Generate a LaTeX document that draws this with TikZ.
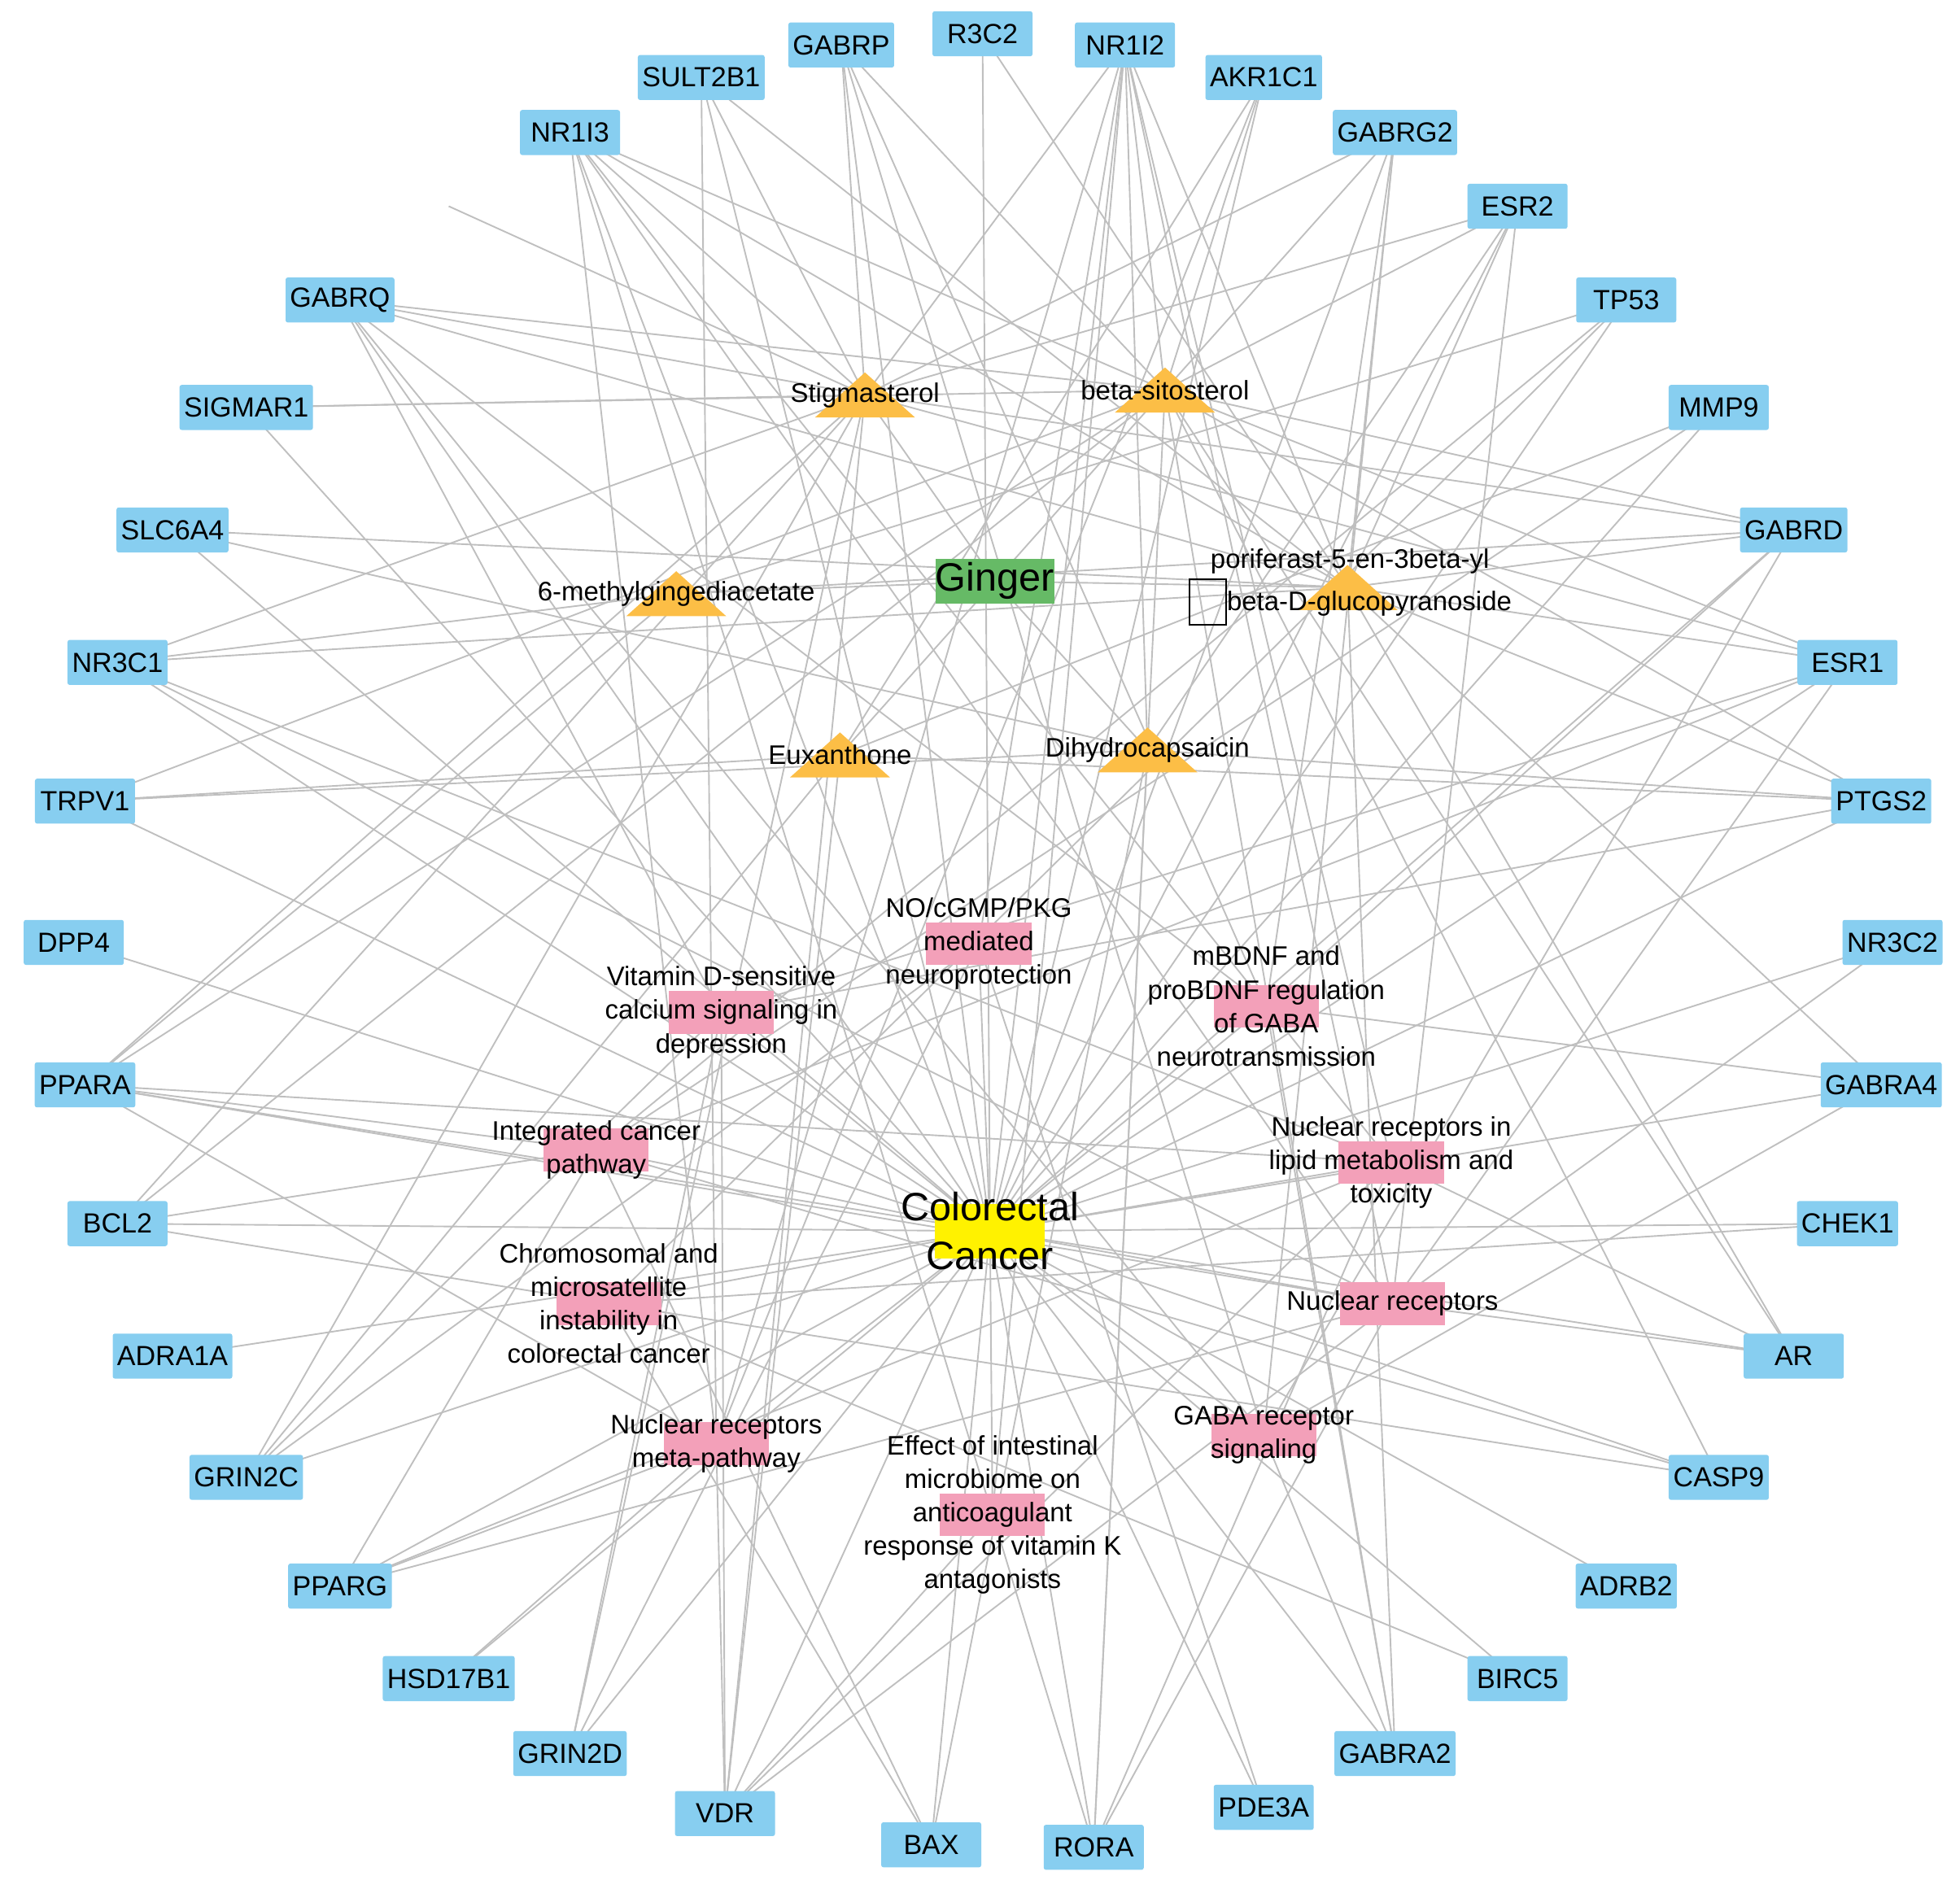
\documentclass[tikz,border=0pt]{standalone}
\usepackage{fontspec}
\setmainfont{Liberation Sans}
\usetikzlibrary{calc}
\begin{document}
\begin{tikzpicture}[x=0.01cm,y=-0.01cm,
  gene/.style={minimum width=0.8cm, minimum height=0.36cm, inner sep=1pt, rounded corners=0.5pt, font=\fontsize{6.3}{7}\selectfont},
  pbox/.style={minimum width=0.84cm, minimum height=0.34cm, inner sep=0pt},
  ptext/.style={align=center, font=\fontsize{6.1}{7.6}\selectfont},
  ctext/.style={font=\fontsize{6.1}{7}\selectfont},
  edge/.style={draw=black!25, line width=0.35pt}]
\useasboundingbox (0,0) rectangle (1568,1511);
\definecolor{gblue}{RGB}{135,206,240}
\definecolor{gpink}{RGB}{243,160,185}
\definecolor{gorange}{RGB}{252,190,70}
\tikzset{gene/.append style={fill=gblue}, pbox/.append style={fill=gpink}}
\foreach \n/\x/\y in {GABRP/673/36, R3C2/786/27, NR1I2/900/36, SULT2B1/561/62, AKR1C1/1011/62, NR1I3/456/106, GABRG2/1116/106, PHB2/359/165, ESR2/1214/165, GABRQ/272/240, TP53/1301/240, SIGMAR1/197/326, MMP9/1375/326, SLC6A4/138/424, GABRD/1435/424, NR3C1/94/530, ESR1/1478/530, TRPV1/68/641, PTGS2/1505/641, DPP4/59/754, NR3C2/1514/754, PPARA/68/868, GABRA4/1505/868, BCL2/94/979, CHEK1/1478/979, ADRA1A/138/1085, AR/1435/1085, GRIN2C/197/1182, CASP9/1375/1182, PPARG/272/1269, ADRB2/1301/1269, HSD17B1/359/1343, BIRC5/1214/1343, GRIN2D/456/1403, GABRA2/1116/1403, VDR/580/1451, PDE3A/1011/1446, BAX/745/1476, RORA/875/1478}
  \coordinate (\n) at (\x,\y);
\foreach \n/\x/\y in {stig/692/316, sito/932/312, meth/541/475, pori/1078/470, eux/672/604, dihy/918/600,
  ginger/796/465, crc/792/985, nocgmp/783/755, vitd/577/810, mbdnf/1013/805, integ/477/920, nrlipid/1113/930,
  chrom/487/1043, nr/1114/1043, gaba/1011/1148, nrmeta/573/1155, effect/794/1212}
  \coordinate (\n) at (\x,\y);
\foreach \c in {stig,sito,meth,pori,eux,dihy} \draw[edge] (ginger) -- (\c);
\foreach \c in {nocgmp,vitd,mbdnf,integ,nrlipid,chrom,nr,gaba,nrmeta,effect} \draw[edge] (crc) -- (\c);
\foreach \g in {GABRP,R3C2,NR1I2,SULT2B1,AKR1C1,NR1I3,GABRG2,ESR2,GABRQ,TP53,SIGMAR1,MMP9,SLC6A4,GABRD,NR3C1,ESR1,TRPV1,PTGS2,DPP4,NR3C2,PPARA,GABRA4,BCL2,CHEK1,ADRA1A,AR,GRIN2C,CASP9,PPARG,ADRB2,HSD17B1,BIRC5,GRIN2D,GABRA2,VDR,PDE3A,BAX,RORA}
  \draw[edge] (crc) -- (\g);
\foreach \g in {GABRP,SULT2B1,NR1I3,GABRQ,SIGMAR1,NR1I2,GABRG2,ESR2,GABRD,ESR1,PPARA,NR3C1,BCL2,GRIN2C,VDR,GRIN2D,PHB2}
  \draw[edge] (stig) -- (\g);
\foreach \g in {GABRP,NR1I2,AKR1C1,NR1I3,GABRG2,ESR2,GABRQ,SIGMAR1,GABRD,ESR1,PPARA,BCL2,CASP9,AR,GABRA2,RORA,PTGS2,TRPV1}
  \draw[edge] (sito) -- (\g);
\foreach \g in {NR1I2,NR1I3,GABRG2,ESR2,GABRQ,GABRD,ESR1,GABRA4,NR3C1,SLC6A4,AR,GABRA2,PTGS2,R3C2,SULT2B1}
  \draw[edge] (pori) -- (\g);
\foreach \g in {NR3C1,PPARA,TP53,GABRD} \draw[edge] (meth) -- (\g);
\foreach \g in {TRPV1,GRIN2C,AKR1C1,MMP9,PTGS2,VDR} \draw[edge] (eux) -- (\g);
\foreach \g in {TRPV1,NR1I2,SLC6A4,ESR2,PTGS2,BAX,RORA} \draw[edge] (dihy) -- (\g);
\foreach \g in {PDE3A,GRIN2C,GRIN2D,NR1I2} \draw[edge] (nocgmp) -- (\g);
\foreach \g in {VDR,GRIN2C,GRIN2D,PTGS2,GABRQ,ESR1} \draw[edge] (vitd) -- (\g);
\foreach \g in {GABRA2,GABRA4,GABRD,GABRG2,GABRP,GABRQ} \draw[edge] (mbdnf) -- (\g);
\foreach \g in {BCL2,BAX,CASP9,TP53,PPARA,PPARG,MMP9,ESR1} \draw[edge] (integ) -- (\g);
\foreach \g in {NR1I2,NR1I3,PPARA,PPARG,NR3C1,AR,RORA,VDR} \draw[edge] (nrlipid) -- (\g);
\foreach \g in {TP53,BAX,BCL2,CASP9,BIRC5,CHEK1} \draw[edge] (chrom) -- (\g);
\foreach \g in {NR1I2,NR1I3,NR3C1,NR3C2,PPARA,PPARG,ESR1,ESR2,AR,VDR,RORA} \draw[edge] (nr) -- (\g);
\foreach \g in {GABRA2,GABRA4,GABRD,GABRG2,GABRP,GABRQ} \draw[edge] (gaba) -- (\g);
\foreach \g in {NR1I2,NR1I3,PPARA,PPARG,VDR,HSD17B1,SULT2B1,AKR1C1} \draw[edge] (nrmeta) -- (\g);
\foreach \g in {NR1I2,NR1I3,VDR,RORA} \draw[edge] (effect) -- (\g);
\foreach \n in {GABRP,R3C2,NR1I2,SULT2B1,AKR1C1,NR1I3,GABRG2,ESR2,GABRQ,TP53,SIGMAR1,MMP9,SLC6A4,GABRD,NR3C1,ESR1,TRPV1,PTGS2,DPP4,NR3C2,PPARA,GABRA4,BCL2,CHEK1,ADRA1A,AR,GRIN2C,CASP9,PPARG,ADRB2,HSD17B1,BIRC5,GRIN2D,GABRA2,VDR,PDE3A,BAX,RORA}
  \node[gene] (n\n) at (\n) {\n};
\foreach \c in {stig,sito,meth,pori,eux,dihy}
  \fill[gorange] ($(\c)+(-40,18)$) -- ($(\c)+(0,-18)$) -- ($(\c)+(40,18)$) -- cycle;
\node[ctext] (tstig) at (stig) {Stigmasterol};
\node[ctext] (tsito) at (sito) {beta-sitosterol};
\node[ctext] (tmeth) at (meth) {6-methylgingediacetate};
\node[ctext,align=center] (tpori) at ($(pori)+(2,0)$) {poriferast-5-en-3beta-yl\\\fbox{\rule{0pt}{4pt}\hspace{2pt}}beta-D-glucopyranoside};
\node[ctext] (teux) at (eux) {Euxanthone};
\node[ctext] (tdihy) at (dihy) {Dihydrocapsaicin};
\node[fill=green!55!black!60, minimum width=0.84cm, minimum height=0.36cm, inner sep=0pt, font=\fontsize{9}{10}\selectfont] (nginger) at (ginger) {Ginger};
\fill[yellow] ($(crc)+(-44,-22)$) rectangle ($(crc)+(44,22)$);
\node[align=center, font=\fontsize{9}{11}\selectfont] (ncrc) at (crc) {Colorectal\\Cancer};
\foreach \p in {nocgmp,vitd,mbdnf,integ,nrlipid,chrom,nr,gaba,nrmeta,effect}
  \node[pbox] (b\p) at (\p) {};
\node[ptext] at (nocgmp) {NO/cGMP/PKG\\mediated\\neuroprotection};
\node[ptext] at (vitd) {Vitamin D-sensitive\\calcium signaling in\\depression};
\node[ptext] at (mbdnf) {mBDNF and\\proBDNF regulation\\of GABA\\neurotransmission};
\node[ptext] at (integ) {Integrated cancer\\pathway};
\node[ptext] at (nrlipid) {Nuclear receptors in\\lipid metabolism and\\toxicity};
\node[ptext] at (chrom) {Chromosomal and\\microsatellite\\instability in\\colorectal cancer};
\node[ptext] at (nr) {Nuclear receptors};
\node[ptext] at (gaba) {GABA receptor\\signaling};
\node[ptext] at (nrmeta) {Nuclear receptors\\meta-pathway};
\node[ptext] at (effect) {Effect of intestinal\\microbiome on\\anticoagulant\\response of vitamin K\\antagonists};
\end{tikzpicture}
\end{document}
